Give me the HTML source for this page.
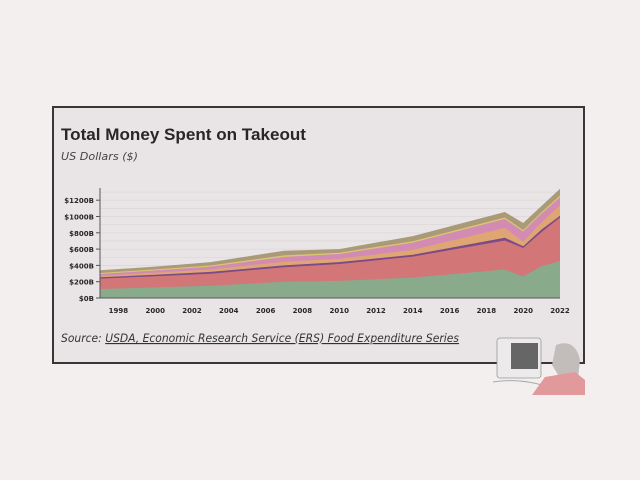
<!DOCTYPE html><html><head><style>body{margin:0;width:640px;height:480px;background:#f3efef;overflow:hidden;font-family:"DejaVu Sans","Liberation Sans",sans-serif}</style></head><body>
<svg width="640" height="480" xmlns="http://www.w3.org/2000/svg" style="position:absolute;left:0;top:0">
<rect x="53" y="107" width="531" height="256" fill="#e9e5e6" stroke="#3a3536" stroke-width="2"/>
<text x="61" y="140" font-size="17" font-weight="bold" fill="#2a2628" font-family="Liberation Sans,sans-serif" textLength="245" lengthAdjust="spacingAndGlyphs">Total Money Spent on Takeout</text>
<text x="61" y="160" font-size="11" font-style="italic" fill="#444" textLength="77" lengthAdjust="spacingAndGlyphs">US Dollars ($)</text>
<g stroke="#dbd6d7" stroke-width="0.7">
<line x1="100" x2="560" y1="289.9" y2="289.9"/><line x1="100" x2="560" y1="281.7" y2="281.7"/><line x1="100" x2="560" y1="273.6" y2="273.6"/><line x1="100" x2="560" y1="265.4" y2="265.4"/><line x1="100" x2="560" y1="257.3" y2="257.3"/><line x1="100" x2="560" y1="249.1" y2="249.1"/><line x1="100" x2="560" y1="241" y2="241"/><line x1="100" x2="560" y1="232.8" y2="232.8"/><line x1="100" x2="560" y1="224.7" y2="224.7"/><line x1="100" x2="560" y1="216.5" y2="216.5"/><line x1="100" x2="560" y1="208.4" y2="208.4"/><line x1="100" x2="560" y1="200.2" y2="200.2"/><line x1="100" x2="560" y1="192.1" y2="192.1"/>
</g>
<polygon fill="#aa9a78" points="100,270.3 155.2,266.6 210.4,262.1 284,250.7 339.2,249.1 412.8,236.1 504.8,212 523.2,223 541.6,205.9 560,188.8 560,298 100,298"/>
<polygon fill="#d9c870" points="100,273 155.2,269.4 210.4,265.5 284,255.4 339.2,252.8 412.8,241.2 504.8,217.5 523.2,230 541.6,212 560,195.5 560,298 100,298"/>
<polygon fill="#d38bb3" points="100,274 155.2,270.4 210.4,266.6 284,256.9 339.2,254 412.8,242.6 504.8,219 523.2,231.5 541.6,213.5 560,197.2 560,298 100,298"/>
<polygon fill="#dfa673" points="100,276 155.2,272.7 210.4,269.5 284,261.7 339.2,258.9 412.8,249.9 504.8,227.9 523.2,241.8 541.6,222.2 560,205.1 560,298 100,298"/>
<polygon fill="#7b4a88" points="100,277.2 155.2,274.8 210.4,271.9 284,265.4 339.2,262.1 412.8,254.8 504.8,237.7 523.2,246.2 541.6,229.5 560,215.7 560,298 100,298"/>
<polygon fill="#d27678" points="100,278.6 155.2,276.2 210.4,273.8 284,267.2 339.2,264 412.8,256.6 504.8,240.5 523.2,248 541.6,232 560,217.5 560,298 100,298"/>
<polygon fill="#89aa8b" points="100,289 155.2,287.4 210.4,285.8 284,281.7 339.2,280.9 412.8,277.6 504.8,269.5 523.2,276.4 541.6,266.2 560,260.9 560,298 100,298"/>
<g stroke="#555" stroke-width="1"><line x1="100" y1="188" x2="100" y2="298"/><line x1="100" y1="298" x2="560" y2="298"/></g>
<g font-size="7" fill="#2a2628" text-anchor="end" font-weight="bold">
<text x="94" y="301">$0B</text><text x="94" y="284.7">$200B</text><text x="94" y="268.4">$400B</text><text x="94" y="252.1">$600B</text><text x="94" y="235.8">$800B</text><text x="94" y="219.5">$1000B</text><text x="94" y="203.2">$1200B</text>
</g>
<g stroke="#555"><line x1="96" x2="100" y1="298" y2="298"/><line x1="96" x2="100" y1="281.7" y2="281.7"/><line x1="96" x2="100" y1="265.4" y2="265.4"/><line x1="96" x2="100" y1="249.1" y2="249.1"/><line x1="96" x2="100" y1="232.8" y2="232.8"/><line x1="96" x2="100" y1="216.5" y2="216.5"/><line x1="96" x2="100" y1="200.2" y2="200.2"/></g>
<g font-size="7" fill="#2a2628" text-anchor="middle" font-weight="bold">
<text x="118.4" y="313">1998</text><text x="155.2" y="313">2000</text><text x="192" y="313">2002</text><text x="228.8" y="313">2004</text><text x="265.6" y="313">2006</text><text x="302.4" y="313">2008</text><text x="339.2" y="313">2010</text><text x="376" y="313">2012</text><text x="412.8" y="313">2014</text><text x="449.6" y="313">2016</text><text x="486.4" y="313">2018</text><text x="523.2" y="313">2020</text><text x="560" y="313">2022</text>
</g>
<text x="61" y="342" font-size="11.5" font-style="italic" fill="#333" textLength="398" lengthAdjust="spacingAndGlyphs">Source: <tspan text-decoration="underline">USDA, Economic Research Service (ERS) Food Expenditure Series</tspan></text>
<rect x="497" y="338" width="44" height="40" rx="3" fill="#eceaea" stroke="#999" stroke-width="0.8"/>
<rect x="511" y="343" width="27" height="26" fill="#666"/>
<path d="M493 382 Q520 378 545 386" stroke="#aaa" fill="none"/>
<path d="M556 345 Q575 338 580 360 L578 378 L560 378 L552 365 Z" fill="#c2bcba"/>
<path d="M532 395 L545 377 L575 372 L585 380 L585 395 Z" fill="#e2999b"/>
</svg></body></html>
